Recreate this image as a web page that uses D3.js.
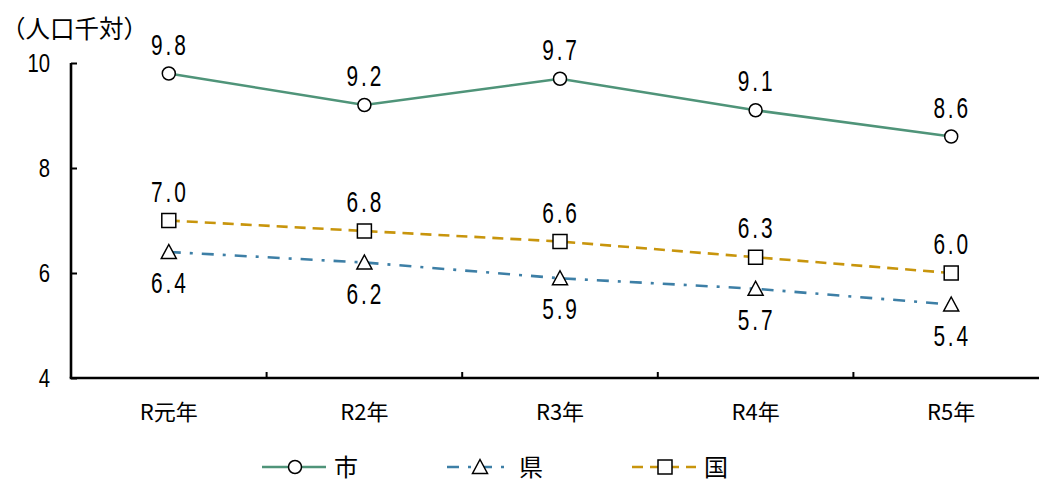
<!DOCTYPE html>
<html>
<head>
<meta charset="utf-8">
<script src="https://cdn.jsdelivr.net/npm/d3@7"></script>
<style>
  html, body { margin: 0; padding: 0; background: #fff; }
  svg { display: block; }
  .cjk { font-family: "Noto Sans CJK JP", sans-serif; }
  .num { font-family: "Liberation Sans", "Noto Sans", sans-serif; }
</style>
</head>
<body>
<svg id="chart" width="1039" height="483"></svg>
<script>
// Birth rate per 1,000 population, fiscal years R1–R5
const categories = ["R元年", "R2年", "R3年", "R4年", "R5年"];
const cityValues = [9.8, 9.2, 9.7, 9.1, 8.6];        // 市
const prefValues = [6.4, 6.2, 5.9, 5.7, 5.4];        // 県
const nationValues = [7.0, 6.8, 6.6, 6.3, 6.0];      // 国
const yTicks = [4, 6, 8, 10];
const unitLabel = "（人口千対）";

const series = [
  { name: "市", values: cityValues, color: "#4f9479", dash: null, marker: "circle", labelPos: "above" },
  { name: "県", values: prefValues, color: "#3d7fa6", dash: "12,9,3,9", marker: "triangle", labelPos: "below" },
  { name: "国", values: nationValues, color: "#c8950c", dash: "11,7", marker: "square", labelPos: "above" }
];

const svg = d3.select("#chart");
const margin = { left: 71, right: 0, top: 63, bottom: 105 };
const plotW = 1049 - margin.left;
const plotH = 378 - margin.top;

const x = d3.scaleBand().domain(categories).range([margin.left, margin.left + plotW]);
const y = d3.scaleLinear().domain([4, 10]).range([margin.top + plotH, margin.top]);
const cx = c => x(c) + x.bandwidth() / 2;

// Condensed numeric text: horizontally squeezed glyphs
function narrowText(parent, px, py, str, size, sx, anchor, spacing) {
  const g = parent.append("g").attr("transform", `translate(${px},${py}) scale(${sx},1)`);
  g.append("text").attr("class", "num").attr("x", 0).attr("y", 0)
    .attr("text-anchor", anchor).attr("font-size", size)
    .attr("letter-spacing", spacing || 0).attr("fill", "#000").text(str);
  return g;
}

// Y axis: ticks pointing inward
const yAxis = svg.append("g").attr("transform", `translate(${margin.left},0)`)
  .call(d3.axisLeft(y).tickValues(yTicks).tickSize(-6).tickPadding(20).tickFormat(d3.format("d")));
yAxis.select(".domain").attr("stroke", "#000").attr("stroke-width", 2.6).attr("d", `M0,${y(10)}V${y(4)}`);
yAxis.selectAll(".tick line").attr("stroke", "#000").attr("stroke-width", 2);
yAxis.selectAll(".tick text").remove();
yTicks.forEach(t => narrowText(svg, 50, y(t) + 9, String(t), 26, 0.78, "end"));

// X axis: ticks at band boundaries, pointing up
const xAxisG = svg.append("g").attr("transform", `translate(0,${y(4)})`);
xAxisG.append("line").attr("x1", margin.left - 1.3).attr("x2", 1049)
  .attr("stroke", "#000").attr("stroke-width", 2.6);
const bounds = categories.map(c => x(c)).slice(1);
xAxisG.selectAll(".bt").data(bounds).join("line")
  .attr("x1", d => d).attr("x2", d => d).attr("y1", 0).attr("y2", -6)
  .attr("stroke", "#000").attr("stroke-width", 2);
xAxisG.selectAll(".xl").data(categories).join("text")
  .attr("class", "cjk").attr("x", d => cx(d)).attr("y", 42)
  .attr("text-anchor", "middle").attr("font-size", 22).attr("fill", "#000")
  .text(d => d);

// Unit label
svg.append("text").attr("class", "cjk").attr("x", 1).attr("y", 38)
  .attr("font-size", 24.5).attr("fill", "#000").text(unitLabel);

const line = d3.line().x((d, i) => cx(categories[i])).y(d => y(d));

function drawMarker(g, type, px, py) {
  if (type === "circle") {
    g.append("circle").attr("cx", px).attr("cy", py).attr("r", 6.5)
      .attr("fill", "#fff").attr("stroke", "#000").attr("stroke-width", 1.5);
  } else if (type === "square") {
    g.append("rect").attr("x", px - 7).attr("y", py - 7).attr("width", 14).attr("height", 14)
      .attr("fill", "#fff").attr("stroke", "#000").attr("stroke-width", 1.5);
  } else {
    const s = 7.5;
    g.append("path").attr("d", `M${px},${py - s}L${px + s},${py + s * 0.85}L${px - s},${py + s * 0.85}Z`)
      .attr("fill", "#fff").attr("stroke", "#000").attr("stroke-width", 1.5);
  }
}

// Series lines, markers and value labels
series.forEach(s => {
  const g = svg.append("g");
  g.append("path").datum(s.values).attr("d", line)
    .attr("fill", "none").attr("stroke", s.color).attr("stroke-width", 2.6)
    .attr("stroke-dasharray", s.dash);
  s.values.forEach((v, i) => {
    const px = cx(categories[i]), py = y(v);
    drawMarker(g, s.marker, px, py);
    narrowText(g, px + 1, s.labelPos === "above" ? py - 19 : py + 41,
      d3.format(".1f")(v), 29, 0.72, "middle", 4);
  });
});

// Legend
const legendY = 467;
const legendX = [262, 447, 632];
series.forEach((s, i) => {
  const g = svg.append("g");
  const x0 = legendX[i];
  g.append("line").attr("x1", x0).attr("x2", x0 + 64).attr("y1", legendY).attr("y2", legendY)
    .attr("stroke", s.color).attr("stroke-width", 2.6).attr("stroke-dasharray", s.dash);
  drawMarker(g, s.marker, x0 + 33, legendY);
  g.append("text").attr("class", "cjk").attr("x", x0 + 72).attr("y", legendY + 9)
    .attr("font-size", 24).attr("fill", "#000").text(s.name);
});
</script>
</body>
</html>
